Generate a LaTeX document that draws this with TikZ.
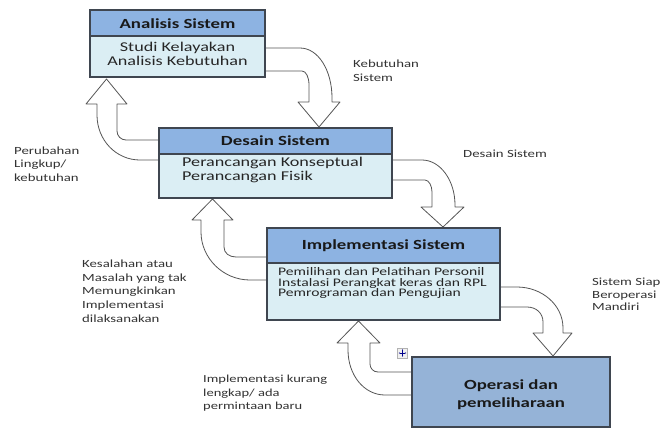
\documentclass[tikz,border=0pt]{standalone}
\usepackage{fontspec}
\usetikzlibrary{arrows.meta}
\newfontfamily\wf{Carlito}[FakeStretch=1.35]
\definecolor{hdrblue}{HTML}{8DB3E2}
\definecolor{bodyblue}{HTML}{DBEEF4}
\definecolor{opblue}{HTML}{95B3D7}
\definecolor{edgecol}{HTML}{3F4650}
\definecolor{arrowline}{HTML}{555555}
\definecolor{lbl}{HTML}{333333}
\begin{document}
\begin{tikzpicture}[x=1bp,y=-1bp,
 box/.style={draw=edgecol, line width=1.2bp, fill=bodyblue, inner sep=0, outer sep=0, anchor=north west},
 boxline/.style={draw=edgecol, line width=1.2bp},
 hdrtext/.style={font=\wf\bfseries\fontsize{14}{16}\selectfont, text=black!90, inner sep=0},
 bodytext/.style={font=\wf\fontsize{13.5}{14}\selectfont, align=center, inner sep=0, text=black!85},
 bodyleft/.style={font=\wf\fontsize{13.5}{14}\selectfont, align=left, inner sep=0, text=black!85, anchor=west},
 smalltext/.style={font=\wf\fontsize{11.6}{11}\selectfont, align=left, inner sep=0, text=black!85, anchor=west},
 lbltext/.style={font=\wf\fontsize{11}{13.8}\selectfont, align=left, inner sep=0, text=lbl, anchor=west},
 blockarrow/.style={draw=arrowline, line width=0.8bp, fill=white, line join=round}
]
\useasboundingbox (0,0) rectangle (663,430);
\fill[white] (0,0) rectangle (663,430);

% forward block arrows
\draw[blockarrow] (262,48) -- (300,48) .. controls (318,48) and (332,70) .. (332,98) -- (332,102) -- (340,102) -- (319,127) -- (298,102) -- (309,102) -- (309,85) .. controls (309,77) and (306,71) .. (302,71) -- (262,71) -- cycle;
\draw[blockarrow] (389,160) -- (422,160) .. controls (440,160) and (455,180) .. (455,205) -- (455,207) -- (464,207) -- (443,227) -- (421,207) -- (432,207) -- (432,192) .. controls (432,186) and (429,180) .. (425,180) -- (389,180) -- cycle;
\draw[blockarrow] (497,287) -- (517,287) .. controls (542,287) and (563,305) .. (563,328) -- (563,333) -- (572,333) -- (553,356) -- (533,333) -- (543,333) -- (543,322) .. controls (543,313) and (536,307) .. (527,307) -- (497,307) -- cycle;

% backward block arrows
\draw[blockarrow] (162,160) -- (140,160) .. controls (116,160) and (97,140) .. (97,115) -- (97,104) -- (86,104) -- (106.5,79) -- (127,104) -- (117,104) -- (117,131) .. controls (117,136) and (121,140) .. (126,140) -- (162,140) -- cycle;
\draw[blockarrow] (270,280) -- (250,280) .. controls (223,280) and (201,258) .. (201,232) -- (201,220) -- (192,220) -- (212.5,199) -- (233,220) -- (224,220) -- (224,247) .. controls (224,253) and (229,257) .. (236,257) -- (270,257) -- cycle;
\draw[blockarrow] (415,395) -- (385,395) .. controls (364,395) and (348,375) .. (348,350) -- (348,343) -- (337,343) -- (358.5,321) -- (380,343) -- (370,343) -- (370,364) .. controls (370,368) and (373,372) .. (378,372) -- (415,372) -- cycle;

% Box 1
\node[box, minimum width=175bp, minimum height=67bp] (b1) at (90,10) {};
\fill[hdrblue] (b1.north west) rectangle ([yshift=-26bp]b1.north east);
\draw[boxline] ([yshift=-26bp]b1.north west) -- ([yshift=-26bp]b1.north east);
\draw[boxline] (b1.north west) rectangle (b1.south east);
\node[hdrtext] (b1h) at (177.5,23.5) {Analisis Sistem};
\node[bodytext] (b1t) at (177.5,54) {Studi Kelayakan\\Analisis Kebutuhan};

% Box 2
\node[box, minimum width=233bp, minimum height=70bp] (b2) at (159,128) {};
\fill[hdrblue] (b2.north west) rectangle ([yshift=-26bp]b2.north east);
\draw[boxline] ([yshift=-26bp]b2.north west) -- ([yshift=-26bp]b2.north east);
\draw[boxline] (b2.north west) rectangle (b2.south east);
\node[hdrtext] (b2h) at (275.5,141) {Desain Sistem};
\node[bodyleft] (b2t) at (182,170) {Perancangan Konseptual\\Perancangan Fisik};

% Box 3
\node[box, minimum width=233bp, minimum height=92bp] (b3) at (267,228) {};
\fill[hdrblue] (b3.north west) rectangle ([yshift=-35bp]b3.north east);
\draw[boxline] ([yshift=-35bp]b3.north west) -- ([yshift=-35bp]b3.north east);
\draw[boxline] (b3.north west) rectangle (b3.south east);
\node[hdrtext] (b3h) at (383.5,246) {Implementasi Sistem};
\node[smalltext] (b3t) at (278,283) {Pemilihan dan Pelatihan Personil\\Instalasi Perangkat keras dan RPL\\Pemrograman dan Pengujian};

% Box 4
\node[box, fill=opblue, minimum width=198bp, minimum height=70bp] (b4) at (412,357) {};
\node[hdrtext, align=center, font=\wf\bfseries\fontsize{14}{18}\selectfont] (b4t) at (511,395) {Operasi dan\\pemeliharaan};

% move handle
\node[draw=gray!60, fill=gray!12, minimum size=10bp, inner sep=0] (mv) at (402.5,353) {};
\draw[blue!55!black, line width=0.6bp, {Stealth[length=1.5bp]}-{Stealth[length=1.5bp]}] ([xshift=-3.8bp]mv.center) -- ([xshift=3.8bp]mv.center);
\draw[blue!55!black, line width=0.6bp, {Stealth[length=1.5bp]}-{Stealth[length=1.5bp]}] ([yshift=-3.8bp]mv.center) -- ([yshift=3.8bp]mv.center);

% labels
\node[lbltext] (l1) at (353,71) {Kebutuhan\\Sistem};
\node[lbltext] (l2) at (14,164) {Perubahan\\Lingkup/\\kebutuhan};
\node[lbltext] (l3) at (463,154) {Desain Sistem};
\node[lbltext] (l4) at (82,291) {Kesalahan atau\\Masalah yang tak\\Memungkinkan\\Implementasi\\dilaksanakan};
\node[lbltext, font=\wf\fontsize{11}{12.5}\selectfont] (l5) at (592,294.5) {Sistem Siap\\Beroperasi\\Mandiri};
\node[lbltext, font=\wf\fontsize{10.8}{13.5}\selectfont] (l6) at (203,393.5) {Implementasi kurang\\lengkap/ ada\\permintaan baru};
\end{tikzpicture}
\end{document}
